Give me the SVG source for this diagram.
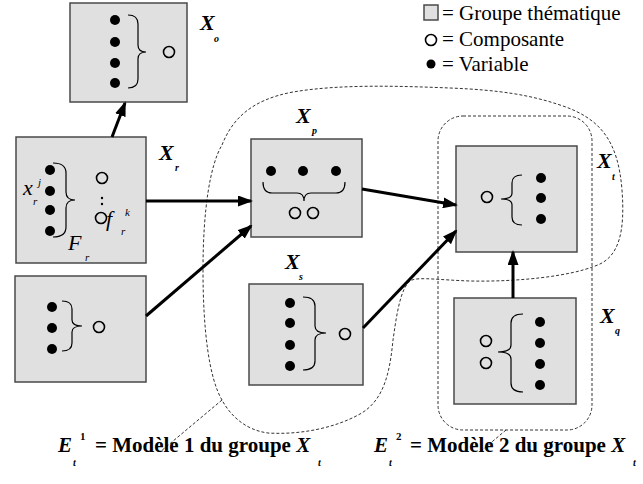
<svg xmlns="http://www.w3.org/2000/svg" width="643" height="484" viewBox="0 0 643 484">
  <defs>
    <style>
      .box { fill: #e0e0e0; stroke: #4a4a4a; stroke-width: 1.5; }
      .dot { fill: #000; }
      .comp { fill: none; stroke: #000; stroke-width: 1.6; }
      .brace { fill: none; stroke: #000; stroke-width: 1.2; }
      .arrow { fill: none; stroke: #000; stroke-width: 3; marker-end: url(#ah); }
      .dash { fill: none; stroke: #333; stroke-width: 1; stroke-dasharray: 3 2; }
      .lbl { font-family: 'Liberation Serif', serif; font-weight: bold; font-style: italic; font-size: 22px; }
      .sub { font-family: 'Liberation Serif', serif; font-weight: bold; font-style: italic; font-size: 10px; }
      .sup { font-family: 'Liberation Serif', serif; font-weight: bold; font-size: 11px; }
      .math { font-family: 'Liberation Serif', serif; font-style: italic; font-size: 22px; }
      .msub { font-family: 'Liberation Serif', serif; font-style: italic; font-size: 11px; }
      .leg { font-family: 'Liberation Serif', serif; font-size: 21px; }
      .cap { font-family: 'Liberation Serif', serif; font-weight: bold; font-size: 21px; }
    </style>
    <marker id="ah" markerUnits="userSpaceOnUse" markerWidth="15" markerHeight="11" refX="13" refY="5.5" orient="auto">
      <path d="M0,0 L15,5.5 L0,11 Z" fill="#000"/>
    </marker>
  </defs>

  <!-- legend -->
  <g id="legend">
    <rect x="424" y="5" width="14" height="15" class="box"/>
    <text x="442" y="20" class="leg">= Groupe thématique</text>
    <ellipse cx="431" cy="40" rx="5.5" ry="5.5" class="comp"/>
    <text x="442" y="46" class="leg">= Composante</text>
    <circle cx="431" cy="64" r="4.5" class="dot"/>
    <text x="442" y="71" class="leg">= Variable</text>
  </g>

  <!-- model outlines -->
  <g id="models">
    <path class="dash" d="M222,400 C209,378 203,330 203,270 C203,210 210,165 222,145 C232,120 250,100 293,92 C340,84 400,86 450,88 C500,90 530,95 560,105 C600,118 618,140 622,190 C625,230 620,258 595,266 C570,276 520,282 470,281 C440,280 420,277 412,280 C400,285 396,320 393,340 C390,370 385,400 360,414 C335,428 300,435 268,433 C245,430 230,415 222,400 Z"/>
    <rect class="dash" x="438" y="116" width="154" height="314" rx="25" ry="25"/>
    <line class="dash" x1="222" y1="400" x2="160" y2="452"/>
    <line class="dash" x1="506" y1="430" x2="480" y2="452"/>
  </g>

  <!-- node Xo -->
  <g id="Xo">
    <rect x="70" y="3" width="117" height="99" class="box"/>
    <circle cx="115" cy="20" r="5" class="dot"/>
    <circle cx="115" cy="42" r="5" class="dot"/>
    <circle cx="115" cy="63" r="5" class="dot"/>
    <circle cx="115" cy="83" r="5" class="dot"/>
    <path class="brace" d="M128,15 Q138,15 138,24 L138,45 Q138,52 146,52 Q138,52 138,59 L138,79 Q138,88 128,88"/>
    <ellipse cx="169" cy="52" rx="5.5" ry="5.5" class="comp"/>
    <text x="200" y="30" class="lbl">X</text>
    <text x="214" y="42" class="sub">o</text>
  </g>

  <!-- node Xr -->
  <g id="Xr">
    <rect x="16" y="137" width="130" height="126" class="box"/>
    <circle cx="50" cy="170" r="5" class="dot"/>
    <circle cx="50" cy="191" r="5" class="dot"/>
    <circle cx="50" cy="210" r="5" class="dot"/>
    <circle cx="50" cy="231" r="5" class="dot"/>
    <path class="brace" d="M53,163 Q66,163 66,173 L66,192 Q66,200 75,200 Q66,200 66,208 L66,227 Q66,237 53,237"/>
    <text x="23" y="195" class="math">x</text>
    <text x="38" y="186" class="msub">j</text>
    <text x="33" y="205" class="msub">r</text>
    <ellipse cx="102" cy="178" rx="5.5" ry="5.5" class="comp"/>
    <circle cx="102" cy="198" r="1.2" class="dot"/>
    <circle cx="102" cy="204" r="1.2" class="dot"/>
    <ellipse cx="101" cy="218" rx="5.5" ry="5.5" class="comp"/>
    <text x="106" y="226" class="math">f</text>
    <text x="125" y="216" class="msub">k</text>
    <text x="121" y="235" class="msub">r</text>
    <text x="68" y="250" class="math">F</text>
    <text x="85" y="261" class="msub">r</text>
    <text x="159" y="160" class="lbl">X</text>
    <text x="175" y="171" class="sub">r</text>
  </g>

  <!-- node bottom left -->
  <g id="Xa">
    <rect x="15" y="276" width="131" height="106" class="box"/>
    <circle cx="52" cy="307" r="5" class="dot"/>
    <circle cx="52" cy="328" r="5" class="dot"/>
    <circle cx="52" cy="349" r="5" class="dot"/>
    <path class="brace" d="M62,301 Q72,301 72,309 L72,320 Q72,326 82,326 Q72,326 72,332 L72,343 Q72,351 62,351"/>
    <ellipse cx="99" cy="327" rx="5.5" ry="5.5" class="comp"/>
  </g>

  <!-- node Xp -->
  <g id="Xp">
    <rect x="251" y="139" width="111" height="98" class="box"/>
    <circle cx="271" cy="171" r="5" class="dot"/>
    <circle cx="303" cy="171" r="5" class="dot"/>
    <circle cx="336" cy="171" r="5" class="dot"/>
    <path class="brace" d="M263,182 Q263,193 272,193 L297,193 Q304,193 304,201 Q304,193 311,193 L336,193 Q345,193 345,182"/>
    <ellipse cx="295" cy="213" rx="5.5" ry="5.5" class="comp"/>
    <ellipse cx="313" cy="213" rx="5.5" ry="5.5" class="comp"/>
    <text x="296" y="123" class="lbl">X</text>
    <text x="312" y="134" class="sub">p</text>
  </g>

  <!-- node Xs -->
  <g id="Xs">
    <rect x="249" y="284" width="114" height="101" class="box"/>
    <circle cx="290" cy="303" r="5" class="dot"/>
    <circle cx="290" cy="323" r="5" class="dot"/>
    <circle cx="290" cy="345" r="5" class="dot"/>
    <circle cx="290" cy="366" r="5" class="dot"/>
    <path class="brace" d="M303,297 Q315,297 315,306 L315,326 Q315,333 326,333 Q315,333 315,340 L315,361 Q315,370 303,370"/>
    <ellipse cx="345" cy="334" rx="5.5" ry="5.5" class="comp"/>
    <text x="285" y="269" class="lbl">X</text>
    <text x="299" y="280" class="sub">s</text>
  </g>

  <!-- node Xt -->
  <g id="Xt">
    <rect x="456" y="146" width="121" height="106" class="box"/>
    <circle cx="541" cy="178" r="5" class="dot"/>
    <circle cx="541" cy="198" r="5" class="dot"/>
    <circle cx="541" cy="219" r="5" class="dot"/>
    <path class="brace" d="M522,175 Q512,175 512,183 L512,193 Q512,199 501,199 Q512,199 512,205 L512,217 Q512,225 522,225"/>
    <ellipse cx="487" cy="197" rx="5.5" ry="5.5" class="comp"/>
    <text x="597" y="168" class="lbl">X</text>
    <text x="612" y="180" class="sub">t</text>
  </g>

  <!-- node Xq -->
  <g id="Xq">
    <rect x="454" y="298" width="122" height="106" class="box"/>
    <circle cx="540" cy="322" r="5" class="dot"/>
    <circle cx="540" cy="343" r="5" class="dot"/>
    <circle cx="540" cy="364" r="5" class="dot"/>
    <circle cx="540" cy="385" r="5" class="dot"/>
    <path class="brace" d="M523,314 Q511,314 511,323 L511,345 Q511,352 498,352 Q511,352 511,359 L511,383 Q511,392 523,392"/>
    <ellipse cx="486" cy="341" rx="5.5" ry="5.5" class="comp"/>
    <ellipse cx="486" cy="363" rx="5.5" ry="5.5" class="comp"/>
    <text x="600" y="323" class="lbl">X</text>
    <text x="615" y="334" class="sub">q</text>
  </g>

  <!-- connectors -->
  <g id="connectors">
    <line class="arrow" x1="112" y1="137" x2="125" y2="103"/>
    <line class="arrow" x1="146" y1="201" x2="251" y2="201"/>
    <line class="arrow" x1="146" y1="316" x2="251" y2="226"/>
    <line class="arrow" x1="362" y1="189" x2="456" y2="205"/>
    <line class="arrow" x1="363" y1="328" x2="456" y2="231"/>
    <line class="arrow" x1="513" y1="298" x2="513" y2="252"/>
  </g>

  <!-- captions -->
  <g id="captions">
    <text x="58" y="452" class="lbl" style="font-size:21px">E</text>
    <text x="80" y="440" class="sup">1</text>
    <text x="73" y="466" class="sub">t</text>
    <text x="95" y="452" class="cap">= Modèle 1 du groupe <tspan font-style="italic">X</tspan></text>
    <text x="318" y="466" class="sub">t</text>
    <text x="374" y="452" class="lbl" style="font-size:21px">E</text>
    <text x="396" y="440" class="sup">2</text>
    <text x="389" y="466" class="sub">t</text>
    <text x="410" y="452" class="cap">= Modèle 2 du groupe <tspan font-style="italic">X</tspan></text>
    <text x="633" y="466" class="sub">t</text>
  </g>
</svg>
